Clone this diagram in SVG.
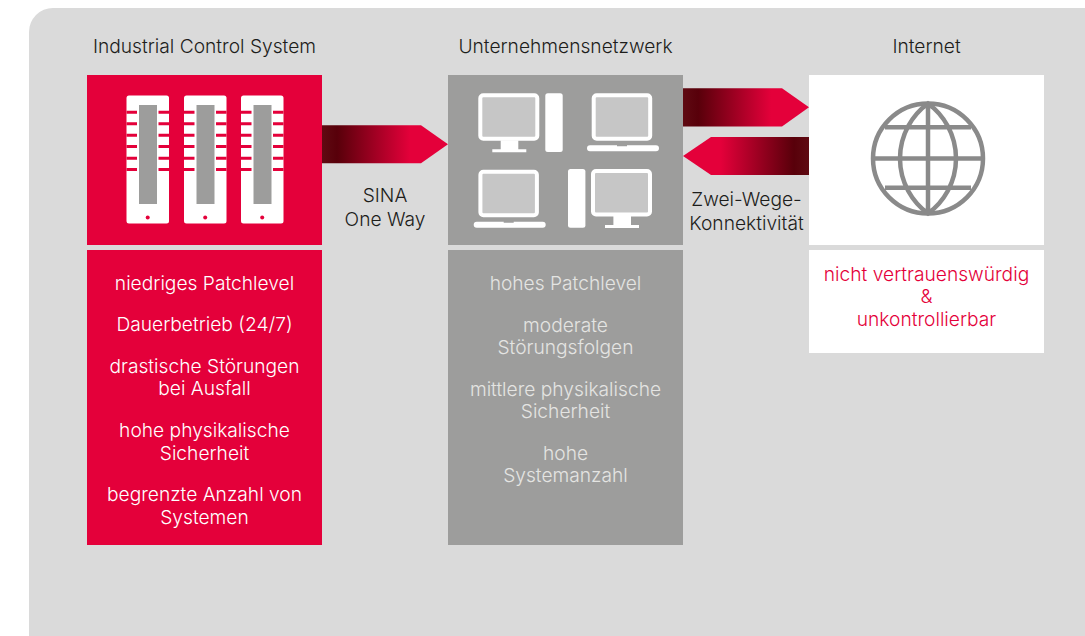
<svg xmlns="http://www.w3.org/2000/svg" width="1085" height="636" viewBox="0 0 1085 636">
<style>
text{font-family:"Inter","Liberation Sans",Arial,sans-serif;font-weight:300;font-size:19.200px;text-anchor:middle}
.k{fill:#1d1d1b}.w{fill:#fff}.r{fill:#e4003a}.lg{fill:#e4e4e2}
.srv{fill:#fff}.slot{fill:#9d9d9c}.red{fill:#e4003a}
.scr{fill:#c6c6c6;stroke:#fff;stroke-width:4}.wh{fill:#fff}
.gl{fill:none;stroke:#8a8a8a;stroke-width:4.5}
</style>
<defs>
<linearGradient id="gr"><stop offset="0" stop-color="#5f0a12"/><stop offset=".12" stop-color="#58000a"/><stop offset=".7" stop-color="#e4003a"/></linearGradient>
<linearGradient id="gl" x1="1" x2="0" y1="0" y2="0"><stop offset="0" stop-color="#5f0a12"/><stop offset=".12" stop-color="#58000a"/><stop offset=".7" stop-color="#e4003a"/></linearGradient>
<g id="server">
<rect class="srv" x="0" y="0" width="42.5" height="128" rx="2.5"/>
<rect class="slot" x="12.5" y="9.5" width="18" height="99"/>
<path fill="#e4003a" d="M0 15.3h10.500v3H0zM0 26.800h10.500v3H0zM0 38.300h10.500v3H0zM0 49.600h10.500v3H0zM0 61.200h10.500v3H0zM0 72.600h10.500v3H0zM32 15.300h10.500v3H32zM32 26.800h10.500v3H32zM32 38.300h10.500v3H32zM32 49.600h10.500v3H32zM32 61.200h10.500v3H32zM32 72.600h10.500v3H32z"/>
<circle class="red" cx="21.2" cy="122" r="2"/>
</g>
<g id="monitor">
<rect class="scr" x="2" y="2" width="57" height="43.500" rx="3"/>
<path class="wh" d="M22.400 47h17.600v9h8v3h-34v-3h8.400z"/>
</g>
<g id="laptop">
<rect class="scr" x="8.700" y="2" width="56.500" height="43.500" rx="3"/>
<path class="wh" d="M5 52H32v1h10v-1H71a3 3 0 0 1 0 6H5a3 3 0 0 1 0-6z"/>
</g>
</defs>
<rect x="29" y="8" width="1100" height="680" rx="24" fill="#dadada"/>
<g id="ics">
<rect class="red" x="87" y="75" width="235" height="170"/>
<rect class="red" x="87" y="250" width="235" height="295"/>
<use href="#server" x="126.500" y="95.500"/>
<use href="#server" x="184" y="95.500"/>
<use href="#server" x="241" y="95.500"/>
<text class="k" x="204.500" y="53">Industrial Control System</text>
<text class="w" x="204.500" y="290">niedriges Patchlevel</text>
<text class="w" x="204.500" y="331">Dauerbetrieb (24/7)</text>
<text class="w" x="204.500" y="373">drastische Störungen</text>
<text class="w" x="204.500" y="395">bei Ausfall</text>
<text class="w" x="204.500" y="437">hohe physikalische</text>
<text class="w" x="204.500" y="459.500">Sicherheit</text>
<text class="w" x="204.500" y="501">begrenzte Anzahl von</text>
<text class="w" x="204.500" y="523.500">Systemen</text>
</g>
<g id="enterprise">
<rect fill="#9d9d9c" x="448" y="75" width="235" height="170"/>
<rect fill="#9d9d9c" x="448" y="250" width="235" height="295"/>
<use href="#monitor" x="478.300" y="93.300"/>
<rect class="wh" x="545.300" y="93.300" width="17.400" height="58.700" rx="2.500"/>
<use href="#laptop" x="585" y="93.300"/>
<use href="#laptop" x="471.700" y="169.700"/>
<rect class="wh" x="568" y="169" width="17.400" height="58.700" rx="2.500"/>
<use href="#monitor" x="591" y="169"/>
<text class="k" x="565.500" y="53">Unternehmensnetzwerk</text>
<text class="lg" x="565.500" y="290">hohes Patchlevel</text>
<text class="lg" x="565.500" y="332">moderate</text>
<text class="lg" x="565.500" y="354">Störungsfolgen</text>
<text class="lg" x="565.500" y="396">mittlere physikalische</text>
<text class="lg" x="565.500" y="418">Sicherheit</text>
<text class="lg" x="565.500" y="460">hohe</text>
<text class="lg" x="565.500" y="482">Systemanzahl</text>
</g>
<g id="internet">
<rect class="wh" x="809" y="75" width="235" height="170"/>
<rect class="wh" x="809" y="250" width="235" height="103"/>
<circle class="gl" cx="928" cy="158.500" r="55"/>
<path class="gl" d="M928 103.500A68 68 0 0 1 928 213.500A68 68 0 0 1 928 103.500zM928 103.500v110M873 158.500h110M885 127.300h86M885 187.700h86"/>
<text class="k" x="926.500" y="53">Internet</text>
<text class="r" x="926.500" y="281">nicht vertrauenswürdig</text>
<text class="r" x="926.500" y="303">&amp;</text>
<text class="r" x="926.500" y="326">unkontrollierbar</text>
</g>
<g id="connectors">
<path fill="url(#gr)" d="M322 125.300H421L448 144.300L421 163.300H322z"/>
<path fill="url(#gr)" d="M683 88.300H782L809 107.300L782 126.500H683z"/>
<path fill="url(#gl)" d="M809 137H711L683 156L711 175H809z"/>
<text class="k" x="385" y="202">SINA</text>
<text class="k" x="385" y="226">One Way</text>
<text class="k" x="746.500" y="206">Zwei-Wege-</text>
<text class="k" x="746.500" y="230">Konnektivität</text>
</g>
</svg>
